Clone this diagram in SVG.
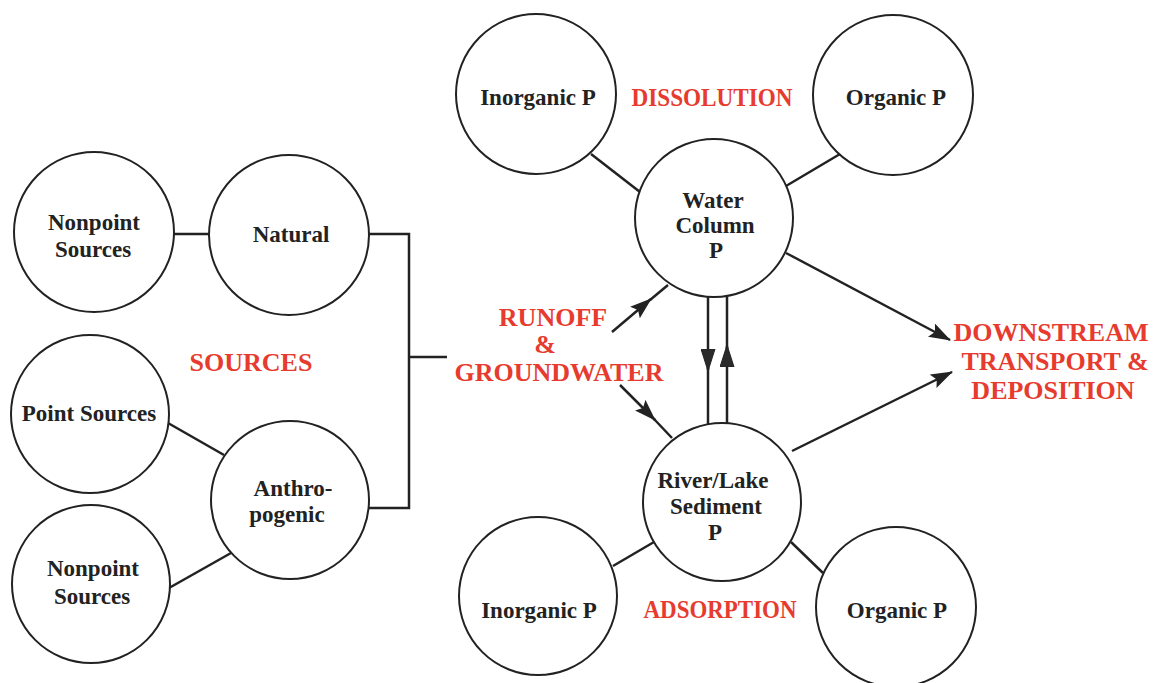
<svg xmlns="http://www.w3.org/2000/svg" width="1155" height="683" viewBox="0 0 1155 683">
  <style>
    .node { fill: #ffffff; stroke: #222222; stroke-width: 2; }
    .lbl { font-family: "Liberation Serif", "Times New Roman", serif; font-weight: bold; font-size: 23px; fill: #222222; text-anchor: middle; }
    .red { font-family: "Liberation Serif", "Times New Roman", serif; font-weight: bold; font-size: 26px; fill: #e63b2e; text-anchor: middle; }
    .conn { stroke: #222222; stroke-width: 2.5; fill: none; }
  </style>
  <defs>
    <marker id="arr" markerUnits="userSpaceOnUse" markerWidth="22" markerHeight="15" refX="21" refY="7.5" orient="auto">
      <path d="M0,0 L22,7.5 L0,15 L4,7.5 Z" fill="#222222"/>
    </marker>
    <marker id="arrV" markerUnits="userSpaceOnUse" markerWidth="22" markerHeight="15" refX="21" refY="7.5" orient="auto">
      <path d="M0,0.5 L22,7.5 L0,14.5 Z" fill="#2a2a2a" stroke="#222222" stroke-width="1"/>
    </marker>
  </defs>
  <rect x="0" y="0" width="1155" height="683" fill="#ffffff"/>

  <g id="connectors">
    <line class="conn" x1="174" y1="234" x2="210" y2="234"/>
    <polyline class="conn" points="369,234 409,234 409,508 369,508"/>
    <line class="conn" x1="409" y1="357" x2="447" y2="357"/>
    <line class="conn" x1="168" y1="423" x2="224" y2="455"/>
    <line class="conn" x1="169" y1="588" x2="231" y2="553"/>
    <line class="conn" x1="591" y1="154" x2="640" y2="192"/>
    <line class="conn" x1="840" y1="154" x2="786" y2="186"/>
    <line class="conn" x1="654" y1="542" x2="613" y2="566"/>
    <line class="conn" x1="791" y1="542" x2="823" y2="573"/>
    <line class="conn" x1="786" y1="253" x2="950" y2="340" marker-end="url(#arr)"/>
    <line class="conn" x1="792" y1="451" x2="952" y2="372" marker-end="url(#arr)"/>
    <line class="conn" x1="612" y1="332" x2="651" y2="299" marker-end="url(#arr)"/>
    <line class="conn" x1="650" y1="300" x2="668" y2="285"/>
    <line class="conn" x1="620" y1="385" x2="655" y2="420" marker-end="url(#arr)"/>
    <line class="conn" x1="654" y1="419" x2="672" y2="438"/>
    <line class="conn" x1="708" y1="297" x2="708" y2="370" marker-end="url(#arrV)"/>
    <line class="conn" x1="708" y1="368" x2="708" y2="424"/>
    <line class="conn" x1="727" y1="424" x2="727" y2="346" marker-end="url(#arrV)"/>
    <line class="conn" x1="727" y1="348" x2="727" y2="297"/>
  </g>

  <g id="nonpoint-top">
    <circle class="node" cx="94" cy="232" r="80"/>
    <text class="lbl" x="94" y="230">Nonpoint</text>
    <text class="lbl" x="93" y="257">Sources</text>
  </g>
  <g id="natural">
    <circle class="node" cx="289" cy="235" r="80"/>
    <text class="lbl" x="291" y="242">Natural</text>
  </g>
  <g id="point-sources">
    <circle class="node" cx="90" cy="414" r="79"/>
    <text class="lbl" x="89" y="421">Point Sources</text>
  </g>
  <g id="anthropogenic">
    <circle class="node" cx="290" cy="500" r="79"/>
    <text class="lbl" x="293" y="496">Anthro-</text>
    <text class="lbl" x="287" y="522">pogenic</text>
  </g>
  <g id="nonpoint-bottom">
    <circle class="node" cx="91" cy="584" r="79"/>
    <text class="lbl" x="93" y="576">Nonpoint</text>
    <text class="lbl" x="92" y="604">Sources</text>
  </g>
  <g id="sources-label">
    <text class="red" x="251" y="371">SOURCES</text>
  </g>

  <g id="inorganic-top">
    <circle class="node" cx="536" cy="94" r="80"/>
    <text class="lbl" x="538" y="105">Inorganic P</text>
  </g>
  <g id="organic-top">
    <circle class="node" cx="893" cy="95" r="80"/>
    <text class="lbl" x="896" y="105">Organic P</text>
  </g>
  <g id="dissolution-label">
    <text class="red" x="712" y="106" font-size="24" textLength="161" lengthAdjust="spacingAndGlyphs">DISSOLUTION</text>
  </g>
  <g id="water-column">
    <circle class="node" cx="714" cy="218" r="79"/>
    <text class="lbl" x="713" y="208">Water</text>
    <text class="lbl" x="715" y="233">Column</text>
    <text class="lbl" x="716" y="258">P</text>
  </g>
  <g id="runoff-label">
    <text class="red" x="553" y="326">RUNOFF</text>
    <text class="red" x="545" y="353" font-size="20">&amp;</text>
    <text class="red" x="559" y="381">GROUNDWATER</text>
  </g>
  <g id="sediment">
    <circle class="node" cx="722" cy="502" r="79"/>
    <text class="lbl" x="713" y="488">River/Lake</text>
    <text class="lbl" x="716" y="514">Sediment</text>
    <text class="lbl" x="715" y="540">P</text>
  </g>
  <g id="downstream-label">
    <text class="red" x="1051" y="341">DOWNSTREAM</text>
    <text class="red" x="1055" y="370">TRANSPORT &amp;</text>
    <text class="red" x="1053" y="399">DEPOSITION</text>
  </g>
  <g id="inorganic-bottom">
    <circle class="node" cx="538" cy="596" r="79"/>
    <text class="lbl" x="539" y="618">Inorganic P</text>
  </g>
  <g id="organic-bottom">
    <circle class="node" cx="896" cy="607" r="80"/>
    <text class="lbl" x="897" y="618">Organic P</text>
  </g>
  <g id="adsorption-label">
    <text class="red" x="720" y="618" font-size="24" textLength="153" lengthAdjust="spacingAndGlyphs">ADSORPTION</text>
  </g>
</svg>
